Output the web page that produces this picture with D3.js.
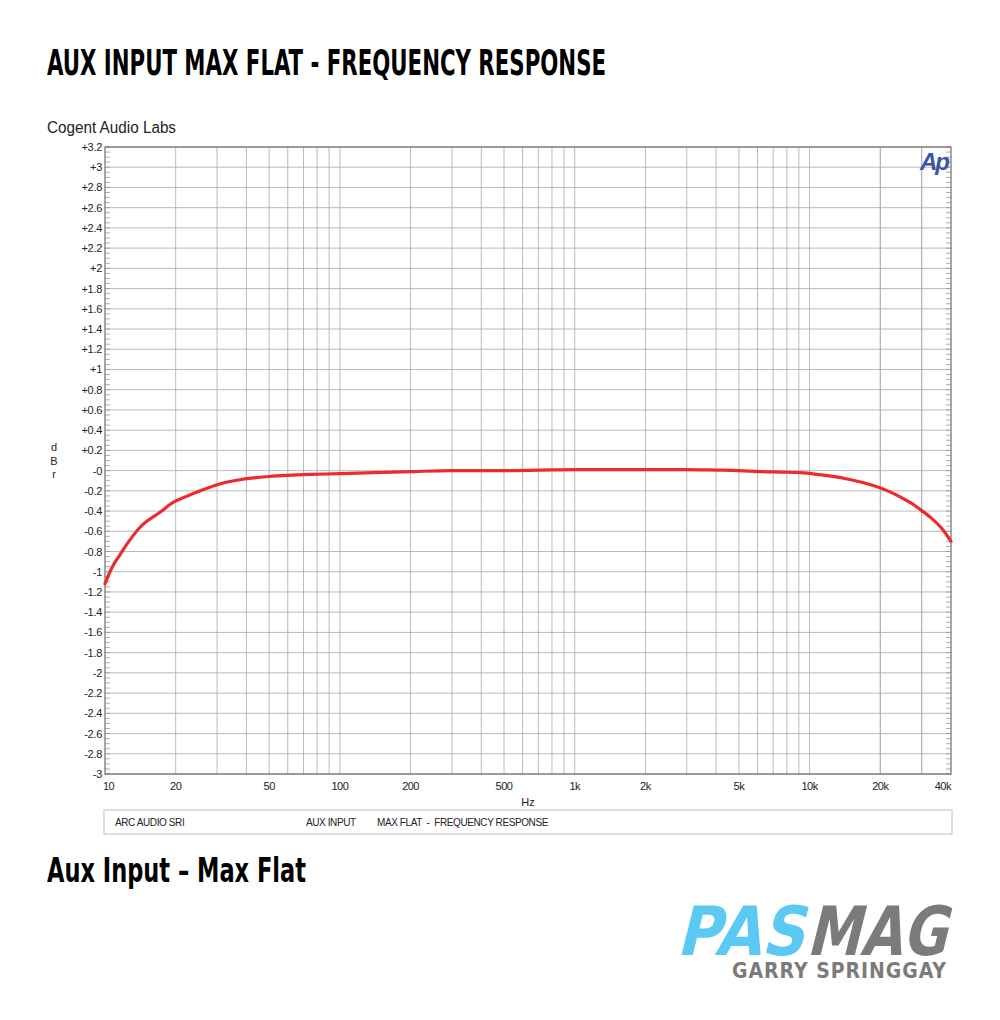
<!DOCTYPE html>
<html><head><meta charset="utf-8">
<script src="https://cdn.jsdelivr.net/npm/d3@7/dist/d3.min.js"></script>
<style>body{margin:0;background:#fff}svg{display:block}</style>
</head><body><div id="chart"></div>
<script>
// ---- data ----
const freqHz = [10, 10.5, 11, 11.6, 12.5, 14.1, 17.2, 19.5, 22, 24.5, 27.2, 31, 37.6, 44, 50, 60, 75, 100, 140, 200, 300, 500, 700, 1000, 1500, 2000, 3000, 4000, 5000, 6150, 7500, 9100, 11000, 14300, 17000, 19900, 22000, 24300, 27000, 29800, 33000, 36500, 40000];
const levelDb = [-1.12, -1.0, -0.91, -0.83, -0.715, -0.56, -0.41, -0.315, -0.26, -0.215, -0.175, -0.13, -0.09, -0.07, -0.058, -0.047, -0.038, -0.03, -0.02, -0.01, 0.0, 0.0, 0.005, 0.01, 0.01, 0.01, 0.01, 0.005, 0.0, -0.01, -0.015, -0.02, -0.04, -0.08, -0.12, -0.17, -0.21, -0.26, -0.32, -0.39, -0.47, -0.57, -0.70];
const yTickValues = d3.range(-3, 3.2001, 0.2).map(v => Math.round(v * 10) / 10);
const xTickValues = [10, 20, 50, 100, 200, 500, 1000, 2000, 5000, 10000, 20000, 40000];
const xTickLabels = ["10", "20", "50", "100", "200", "500", "1k", "2k", "5k", "10k", "20k", "40k"];
const legendItems = ["ARC AUDIO SRI", "AUX INPUT", "MAX FLAT  -  FREQUENCY RESPONSE"];

const W = 1000, H = 1020;
const m = {left: 105, right: 951, top: 147, bottom: 774};
const svg = d3.select("#chart").append("svg").attr("width", W).attr("height", H);

const x = d3.scaleLog().domain([10, 40000]).range([m.left, m.right]);
const y = d3.scaleLinear().domain([-3, 3.2]).range([m.bottom, m.top]);

// titles
svg.append("text").attr("x", 47).attr("y", 75)
  .attr("font-family", "'DejaVu Sans Condensed','Liberation Sans Narrow',sans-serif")
  .attr("font-weight", "bold").attr("font-size", 35)
  .attr("textLength", 559).attr("lengthAdjust", "spacingAndGlyphs")
  .text("AUX INPUT MAX FLAT - FREQUENCY RESPONSE");
svg.append("text").attr("x", 47).attr("y", 133)
  .attr("font-family", "'Liberation Sans',Arial,sans-serif")
  .attr("font-size", 16).attr("fill", "#222")
  .attr("textLength", 129).attr("lengthAdjust", "spacingAndGlyphs").text("Cogent Audio Labs");

// grid
const gridColor = "#a8a8a8";
const g = svg.append("g");
const vGrid = [];
for (let d = 10; d <= 10000; d *= 10) for (let k = 1; k <= 9; k++) { const f = d * k; if (f > 10 && f < 40000) vGrid.push(f); }
vGrid.push(20000, 30000);
g.selectAll("line.vg").data(vGrid).join("line")
  .attr("x1", d => x(d)).attr("x2", d => x(d)).attr("y1", m.top).attr("y2", m.bottom)
  .attr("stroke", gridColor).attr("stroke-width", 0.8);
g.selectAll("line.hg").data(yTickValues).join("line")
  .attr("x1", m.left).attr("x2", m.right).attr("y1", d => y(d)).attr("y2", d => y(d))
  .attr("stroke", gridColor).attr("stroke-width", 0.8);

// minor ticks on left and right edges
const minorY = d3.range(-3, 3.2001, 0.05);
g.selectAll("line.ml").data(minorY).join("line")
  .attr("x1", m.left).attr("x2", m.left + 5).attr("y1", d => y(d)).attr("y2", d => y(d))
  .attr("stroke", "#999").attr("stroke-width", 0.8);
g.selectAll("line.mr").data(minorY).join("line")
  .attr("x1", m.right - 5).attr("x2", m.right).attr("y1", d => y(d)).attr("y2", d => y(d))
  .attr("stroke", "#999").attr("stroke-width", 0.8);

// frame
svg.append("rect").attr("x", m.left).attr("y", m.top).attr("width", m.right - m.left).attr("height", m.bottom - m.top)
  .attr("fill", "none").attr("stroke", "#6e6e6e").attr("stroke-width", 1.2);

// y axis labels
const fmtY = v => v > 0 ? "+" + v : (v === 0 ? "-0" : String(v));
svg.append("g").selectAll("text").data(yTickValues).join("text")
  .attr("x", m.left - 3).attr("y", d => y(d) + 4).attr("text-anchor", "end")
  .attr("font-family", "'Liberation Sans',Arial,sans-serif").attr("font-size", 11).attr("fill", "#222")
  .attr("letter-spacing", -0.3)
  .text(fmtY);

// x axis labels
const n = xTickValues.length;
svg.append("g").selectAll("text").data(xTickValues).join("text")
  .attr("x", (d, i) => i === 0 ? x(d) - 2 : x(d))
  .attr("y", 790)
  .attr("text-anchor", (d, i) => i === 0 ? "start" : (i === n - 1 ? "end" : "middle"))
  .attr("font-family", "'Liberation Sans',Arial,sans-serif").attr("font-size", 11).attr("fill", "#222")
  .attr("letter-spacing", -0.5)
  .text((d, i) => xTickLabels[i]);
svg.append("text").attr("x", 528).attr("y", 806).attr("text-anchor", "middle")
  .attr("font-family", "'Liberation Sans',Arial,sans-serif").attr("font-size", 11).attr("fill", "#222").text("Hz");

// dBr label
["d", "B", "r"].forEach((c, i) => svg.append("text").attr("x", 54).attr("y", 451 + i * 13.5).attr("text-anchor", "middle")
  .attr("font-family", "'Liberation Sans',Arial,sans-serif").attr("font-size", 11).attr("fill", "#222").text(c));

// Ap logo
svg.append("text").attr("x", 920).attr("y", 170)
  .attr("font-family", "'Liberation Sans',Arial,sans-serif").attr("font-weight", "bold").attr("font-style", "italic")
  .attr("font-size", 24).attr("fill", "#3a55a6").attr("letter-spacing", -2).text("Ap");

// curve
const line = d3.line().x(d => x(d[0])).y(d => y(d[1])).curve(d3.curveMonotoneX);
svg.append("path").datum(freqHz.map((f, i) => [f, levelDb[i]]))
  .attr("d", line).attr("fill", "none").attr("stroke", "#ec2b2f").attr("stroke-width", 3.2)
  .attr("stroke-linejoin", "round").attr("stroke-linecap", "round");

// legend box
svg.append("rect").attr("x", 104).attr("y", 810).attr("width", 848).attr("height", 24)
  .attr("fill", "#fff").attr("stroke", "#bdbdbd").attr("stroke-width", 1);
const legX = [115, 306, 377];
svg.append("g").selectAll("text").data(legendItems).join("text")
  .attr("x", (d, i) => legX[i]).attr("y", 826)
  .attr("font-family", "'Liberation Sans',Arial,sans-serif").attr("font-size", 10).attr("fill", "#222")
  .attr("letter-spacing", -0.4)
  .style("white-space", "pre").attr("xml:space", "preserve").text(d => d);

// subtitle
svg.append("text").attr("x", 47).attr("y", 882)
  .attr("font-family", "'DejaVu Sans Condensed','Liberation Sans Narrow',sans-serif")
  .attr("font-weight", "bold").attr("font-size", 33)
  .attr("textLength", 259).attr("lengthAdjust", "spacingAndGlyphs")
  .text("Aux Input – Max Flat");

// PASMAG logo
const logo = svg.append("g");
logo.append("text").attr("x", 0).attr("y", 0)
  .attr("transform", "translate(676,955) skewX(-14)")
  .attr("font-family", "'DejaVu Sans','Liberation Sans',sans-serif").attr("font-weight", "bold")
  .attr("font-size", 68).attr("fill", "#5bc9f1")
  .attr("textLength", 128).attr("lengthAdjust", "spacingAndGlyphs").text("PAS");
logo.append("text").attr("x", 0).attr("y", 0)
  .attr("transform", "translate(806,955) skewX(-14)")
  .attr("font-family", "'DejaVu Sans','Liberation Sans',sans-serif").attr("font-weight", "bold")
  .attr("font-size", 68).attr("fill", "#7b7b7c")
  .attr("textLength", 140).attr("lengthAdjust", "spacingAndGlyphs").text("MAG");
logo.append("text").attr("x", 732).attr("y", 978)
  .attr("font-family", "'DejaVu Sans Condensed','Liberation Sans Narrow',sans-serif").attr("font-weight", "bold")
  .attr("font-size", 21).attr("fill", "#7b7b7c")
  .attr("textLength", 214).attr("lengthAdjust", "spacing").text("GARRY SPRINGGAY");
</script></body></html>
